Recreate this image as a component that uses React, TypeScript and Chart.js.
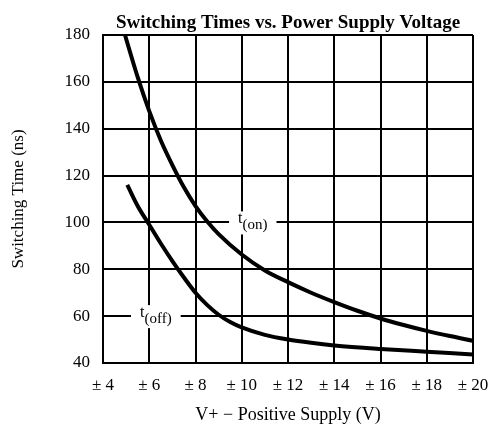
import React, { useEffect, useRef } from "react";
import { Chart, registerables } from "chart.js";

Chart.register(...registerables);

const title = "Switching Times vs. Power Supply Voltage";
const xTitle = "V+ \u2212 Positive Supply (V)";
const yTitle = "Switching Time (ns)";

const xMin = 4;
const xMax = 20;
const xStep = 2;
const yMin = 40;
const yMax = 180;
const yStep = 20;

const tOnV = [4.95, 5.5, 6, 6.5, 7, 7.5, 8, 8.5, 9, 10, 11, 12, 13, 14, 15, 16, 17, 18, 19, 20];
const tOnNs = [180, 162, 147.5, 135, 124.5, 115, 107, 100.5, 95, 86.3, 79.5, 74.5, 70, 66, 62.3, 59, 56.2, 53.7, 51.5, 49.5];

const tOffV = [5.05, 5.5, 6, 6.5, 7, 7.5, 8, 8.5, 9, 9.5, 10, 11, 12, 13, 14, 16, 18, 20];
const tOffNs = [116, 107, 99, 91, 83.5, 76.5, 70, 64.8, 60.6, 57.5, 55.2, 52, 50, 48.6, 47.5, 46, 44.8, 43.6];

const labelMain = ["t", "t"];
const labelSub = ["(on)", "(off)"];
const labelV = [9.84, 5.6];
const labelNs = [100, 60];

const FONT = "'Liberation Serif', 'Times New Roman', serif";

const labelsPlugin = {
  id: "curveLabels",
  afterDraw(chart: any) {
    const { ctx, chartArea, scales } = chart;
    ctx.save();
    // title
    ctx.fillStyle = "#000";
    ctx.font = `bold 19px ${FONT}`;
    ctx.textAlign = "center";
    ctx.textBaseline = "alphabetic";
    ctx.fillText(title, (chartArea.left + chartArea.right) / 2, 28);
    // curve labels
    for (let i = 0; i < labelMain.length; i++) {
      const x = scales.x.getPixelForValue(labelV[i]);
      const y = scales.y.getPixelForValue(labelNs[i]);
      ctx.font = `16px ${FONT}`;
      const w1 = ctx.measureText(labelMain[i]).width;
      ctx.font = `15px ${FONT}`;
      const w2 = ctx.measureText(labelSub[i]).width;
      ctx.fillStyle = "#fff";
      ctx.fillRect(x - 9, y - 11, w1 + w2 + 18, 23);
      ctx.fillStyle = "#000";
      ctx.textAlign = "left";
      ctx.font = `16px ${FONT}`;
      ctx.fillText(labelMain[i], x, y + 1);
      ctx.font = `15px ${FONT}`;
      ctx.fillText(labelSub[i], x + w1, y + 7);
    }
    ctx.restore();
  },
};

export default function App() {
  const ref = useRef<HTMLCanvasElement | null>(null);
  useEffect(() => {
    if (!ref.current) return;
    Chart.defaults.font.family = FONT;
    Chart.defaults.color = "#000";
    const chart = new Chart(ref.current, {
      type: "line",
      data: {
        datasets: [
          {
            label: "t(on)",
            data: tOnV.map((v, i) => ({ x: v, y: tOnNs[i] })),
            borderColor: "#000",
            borderWidth: 4,
            pointRadius: 0,
            cubicInterpolationMode: "monotone",
            fill: false,
          },
          {
            label: "t(off)",
            data: tOffV.map((v, i) => ({ x: v, y: tOffNs[i] })),
            borderColor: "#000",
            borderWidth: 4,
            pointRadius: 0,
            cubicInterpolationMode: "monotone",
            fill: false,
          },
        ],
      },
      options: {
        responsive: false,
        animation: false,
        devicePixelRatio: 1,
        layout: { padding: { top: 35, right: 20, left: 0, bottom: 0 } },
        plugins: { legend: { display: false }, tooltip: { enabled: false }, title: { display: false } },
        scales: {
          x: {
            type: "linear",
            min: xMin,
            max: xMax,
            afterFit: (s: any) => {
              s.height = 65;
              s.paddingLeft = 0;
              s.paddingRight = 0;
            },
            ticks: {
              stepSize: xStep,
              padding: 12,
              maxRotation: 0,
              font: { size: 17 },
              color: "#000",
              callback: (v: any) => "\u00b1 " + v,
            },
            grid: { color: "#000", lineWidth: 2, drawTicks: false },
            border: { color: "#000", width: 2 },
            title: { display: true, text: xTitle, font: { size: 18 }, color: "#000", padding: { top: 0, bottom: 2 } },
          },
          y: {
            type: "linear",
            min: yMin,
            max: yMax,
            afterFit: (s: any) => {
              s.width = 103;
              s.paddingTop = 0;
              s.paddingBottom = 0;
            },
            ticks: { stepSize: yStep, padding: 13, font: { size: 17 }, color: "#000" },
            grid: { color: "#000", lineWidth: 2, drawTicks: false },
            border: { color: "#000", width: 2 },
            title: { display: true, text: yTitle, font: { size: 17 }, color: "#000", padding: { top: 8, bottom: 0 } },
          },
        },
      },
      plugins: [labelsPlugin],
    } as any);
    return () => chart.destroy();
  }, []);
  return (
    <div style={{ position: "absolute", left: 0, top: 0, width: 493, height: 428, background: "#fff" }}>
      <canvas ref={ref} width={493} height={428} />
    </div>
  );
}
